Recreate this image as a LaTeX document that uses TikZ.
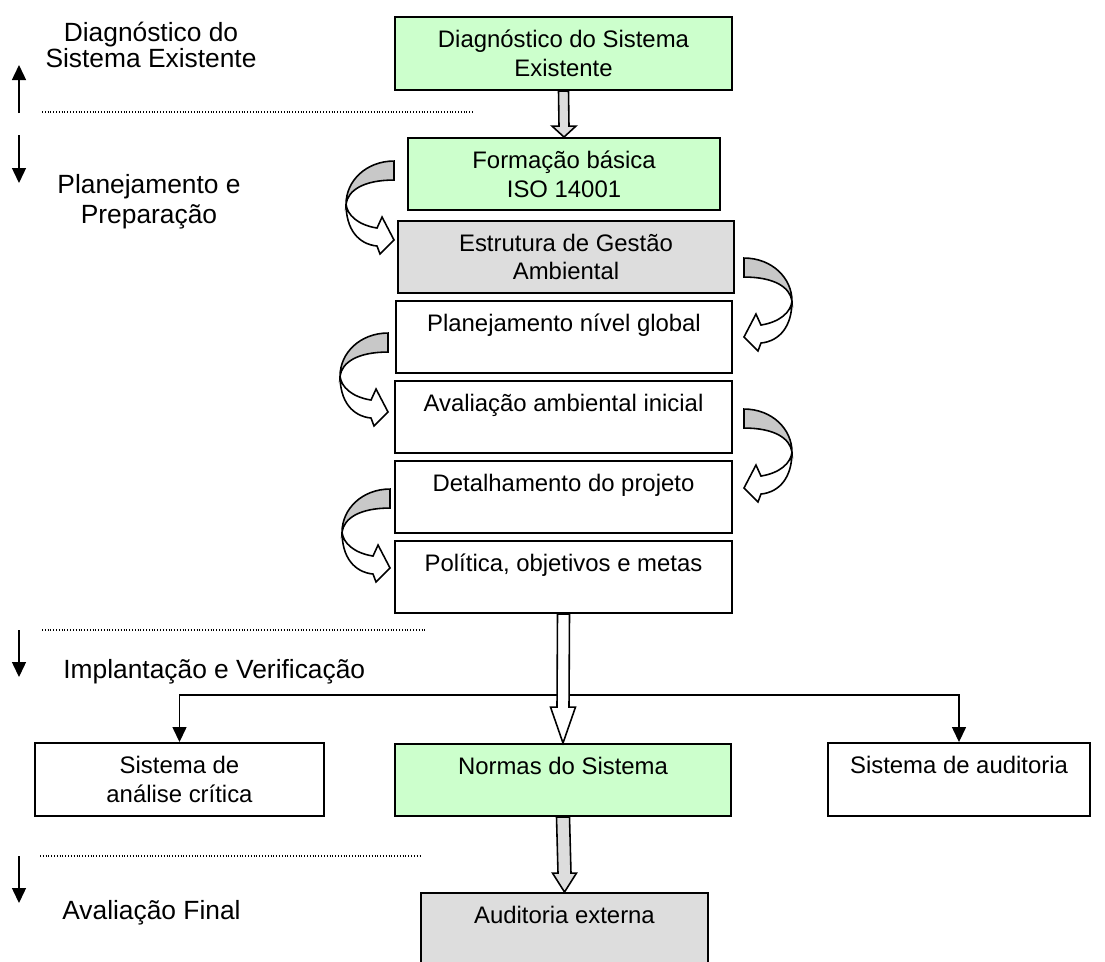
\documentclass[tikz,border=0pt]{standalone}
\usepackage{fontspec}
\setmainfont{Liberation Sans}
\usetikzlibrary{arrows.meta,calc}
\definecolor{verde}{HTML}{CCFFCC}
\definecolor{cinza}{HTML}{DDDDDD}
\definecolor{fita}{HTML}{C8C8C8}

% fat block arrow: fill, from, to, half shaft, half head, head length
\newcommand{\setagrossa}[6]{%
  \filldraw[fill=#1,line width=0.9pt,line join=miter]
    ($(#2)+(-#4,0)$) -- ($(#3)+(-#4,-#6)$) -- ($(#3)+(-#5,-#6)$) -- (#3)
    -- ($(#3)+(#5,-#6)$) -- ($(#3)+(#4,-#6)$) -- ($(#2)+(#4,0)$) -- cycle;}

\tikzset{
  curva/.pic={
    \filldraw[fill=fita,line width=0.9pt] (0,0) .. controls (-28,0) and (-48,20) .. (-48,43)
      .. controls (-46,29) and (-30,19) .. (0,19) -- cycle;
    \filldraw[fill=white,line width=0.9pt,line join=miter] (-48,43) .. controls (-47,54) and (-36,64) .. (-17,67)
      -- (-12,56) -- (0,79) -- (-14,93) -- (-17,85)
      .. controls (-36,83) and (-48,68) .. (-48,43) -- cycle;
  }
}

\begin{document}
\begin{tikzpicture}[x=0.02cm,y=-0.02cm,>={Triangle[length=3mm,width=2.8mm]},
  caixa/.style={draw,line width=1.1pt,align=center,inner sep=0pt,
    font=\fontsize{13.6}{16.3}\selectfont},
  tam/.style args={#1x#2}{minimum width=#1*0.02cm,minimum height=#2*0.02cm},
  rotulo/.style={inner sep=0pt,align=center},
  sep/.style={line width=0.6pt,dash pattern=on 0.5pt off 1.1pt},
  fase/.style={->,line width=0.8pt},
  liga/.style={->,line width=0.8pt}]
\useasboundingbox (0,0) rectangle (1105,961);
\clip (0,0) rectangle (1105,961);

% fluxo principal
\node[caixa,tam=337x73,fill=verde] (diag) at (563.5,53.5) {Diagnóstico do Sistema\\Existente};
\node[caixa,tam=312x72,fill=verde] (form) at (564,174) {Formação básica\\ISO 14001};
\node[caixa,tam=336x72,fill=cinza] (estr) at (566,257) {Estrutura de Gestão\\Ambiental};
\node[caixa,tam=336x72] (plan) at (564,337) {Planejamento nível global\\\mbox{}};
\node[caixa,tam=337x72] (aval) at (563.5,417) {Avaliação ambiental inicial\\\mbox{}};
\node[caixa,tam=337x72] (det) at (563.5,497) {Detalhamento do projeto\\\mbox{}};
\node[caixa,tam=337x72] (pol) at (563.5,577) {Política, objetivos e metas\\\mbox{}};
\node[caixa,tam=289x73] (crit) at (179.5,779.5) {Sistema de\\análise crítica};
\node[caixa,tam=336x72,fill=verde] (norm) at (563,780) {Normas do Sistema\\\mbox{}};
\node[caixa,tam=262x73] (audsys) at (959,779.5) {Sistema de auditoria\\\mbox{}};
\node[caixa,tam=287x73,fill=cinza] (ext) at (564.5,929.5) {Auditoria externa\\\mbox{}};

\setagrossa{cinza}{diag.south}{form.north}{5}{12}{11}

\pic at ($(form.north west)+(-13,24)$) {curva};
\pic[xscale=-1] at ($(estr.north east)+(9,38)$) {curva};
\pic at ($(plan.north west)+(-7,33)$) {curva};
\pic[xscale=-1] at ($(aval.north east)+(11,29)$) {curva};
\pic at ($(det.north west)+(-4,29)$) {curva};

% ramificacao
\coordinate (split) at (563.5,695);
\draw[liga] (split) -| (crit);
\draw[liga] (split) -| (audsys);
\setagrossa{white}{pol.south}{norm.north}{6}{12.5}{36}
\setagrossa{cinza}{norm.south}{ext.north}{6.5}{12}{19}

% fases
\node[rotulo,font=\fontsize{15}{14.8}\selectfont] (f1) at (151,45) {Diagnóstico do\\Sistema Existente};
\node[rotulo,font=\fontsize{15}{17}\selectfont] (f2) at (149,202) {Planejamento e\\Preparação};
\node[rotulo,anchor=west,font=\fontsize{15}{17}\selectfont] (f3) at (63,672) {Implantação e Verificação};
\node[rotulo,anchor=west,font=\fontsize{15}{17}\selectfont] (f4) at (62,913) {Avaliação Final};

\draw[sep] (42,112) -- (473,112);
\draw[sep] (42,630) -- (425,630);
\draw[sep] (40,856) -- (422,856);

\draw[fase] (19,113) -- (19,65);
\draw[fase] (19,135) -- (19,183);
\draw[fase] (19,630) -- (19,677);
\draw[fase] (19,856) -- (19,903);
\end{tikzpicture}
\end{document}
